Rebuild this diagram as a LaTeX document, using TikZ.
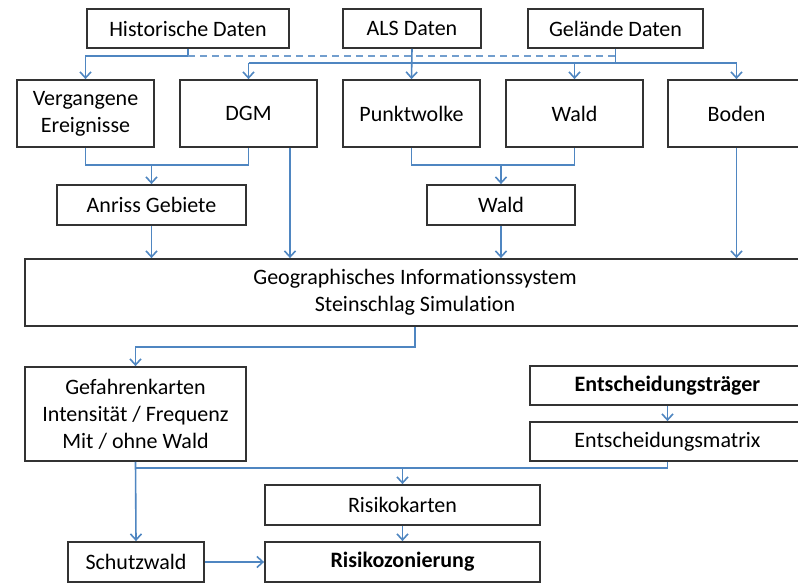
\documentclass[tikz,border=0pt]{standalone}
\usepackage{fontspec}
\setmainfont[Ligatures=NoCommon]{Carlito}
\usepackage{tikz}
\usetikzlibrary{
  arrows.meta,
  positioning,
  calc
}
\definecolor{rfFlow}{HTML}{4F86C1}
\definecolor{rfFrame}{HTML}{333333}
\tikzset{
  rfbox/.style={
    draw=rfFrame, line width=1.8pt, fill=white, inner sep=2pt,
    font=\fontsize{22}{27}\selectfont, align=center
  },
  rfflow/.style={-{Straight Barb[length=6pt,width=11pt]}, line width=1.6pt, rfFlow},
  rflink/.style={line width=1.6pt, rfFlow},
  rfdash/.style={line width=1.5pt, rfFlow!80, dashed, dash pattern=on 7pt off 5pt}
}

\begin{document}
\begin{tikzpicture}[x=1pt, y=-1pt]
  \useasboundingbox[fill=white] (0,0) rectangle (798,584);

  % Datenquellen
  \node[rfbox, minimum width=202pt, minimum height=39pt] (hist) at (188,28.5) {Historische Daten};
  \node[rfbox, minimum width=138pt, minimum height=39pt] (als) at (412,28.5) {ALS Daten};
  \node[rfbox, minimum width=175pt, minimum height=39pt] (gel) at (615.5,28.5) {Gelände Daten};

  % Grundlagen
  \node[rfbox, minimum width=137pt, minimum height=67pt] (verg) at (85.5,113.5) {Vergangene\\Ereignisse};
  \node[rfbox, minimum width=137pt, minimum height=67pt] (dgm) at (248.5,113.5) {DGM};
  \node[rfbox, minimum width=137pt, minimum height=67pt] (punkt) at (411.5,113.5) {Punktwolke};
  \node[rfbox, minimum width=137pt, minimum height=67pt] (wald) at (574.5,113.5) {Wald};
  \node[rfbox, minimum width=137pt, minimum height=67pt] (boden) at (736.5,113.5) {Boden};

  \node[rfbox, minimum width=189pt, minimum height=40pt] (anriss) at (151.5,205) {Anriss Gebiete};
  \node[rfbox, minimum width=148pt, minimum height=40pt] (waldb) at (501,205) {Wald};

  % Simulation
  \node[rfbox, minimum width=780pt, minimum height=67pt] (gis) at (415,292.5) {Geographisches Informationssystem\\Steinschlag Simulation};

  % Ergebnisse
  \node[rfbox, minimum width=221pt, minimum height=94pt] (gef) at (135.5,414) {Gefahrenkarten\\Intensität / Frequenz\\Mit / ohne Wald};
  \node[rfbox, minimum width=275pt, minimum height=39pt, font=\fontsize{22}{27}\selectfont\bfseries] (etr) at (667.5,385.5) {Entscheidungsträger};
  \node[rfbox, minimum width=275pt, minimum height=39pt] (emat) at (667.5,441.5) {Entscheidungsmatrix};
  \node[rfbox, minimum width=275pt, minimum height=40pt] (rkart) at (402.5,505) {Risikokarten};
  \node[rfbox, minimum width=275pt, minimum height=40pt, font=\fontsize{22}{27}\selectfont\bfseries] (rzon) at (402.5,562) {Risikozonierung};
  \node[rfbox, minimum width=136pt, minimum height=40pt] (schutz) at (136,562) {Schutzwald};

  % Sammelschienen
  \coordinate (busA) at (0,56);
  \coordinate (busB) at (0,63);
  \coordinate (busC) at (0,165);
  \coordinate (busD) at (0,347);
  \coordinate (busE) at (0,468);

  \draw[rfflow] (hist.south) -- (hist.south |- busA) -| (verg.north);
  \draw[rfdash] (hist.south |- busA) -- (gel.south |- busA);
  \draw[rflink] (gel.south) -- (gel.south |- busB);
  \draw[rflink] (dgm.north |- busB) -- (boden.north |- busB);
  \draw[rfflow] (dgm.north |- busB) -- (dgm.north);
  \draw[rfflow] (wald.north |- busB) -- (wald.north);
  \draw[rfflow] (boden.north |- busB) -- (boden.north);
  \draw[rfflow] (als.south) -- (punkt.north);

  \draw[rflink] (verg.south) -- (verg.south |- busC) -| (dgm.south);
  \draw[rfflow] (anriss.north |- busC) -- (anriss.north);
  \draw[rflink] (punkt.south) -- (punkt.south |- busC) -| (wald.south);
  \draw[rfflow] (waldb.north |- busC) -- (waldb.north);

  \draw[rfflow] ([xshift=41.5pt]dgm.south) -- ([xshift=41.5pt]dgm.south |- gis.north);
  \draw[rfflow] (anriss.south) -- (anriss.south |- gis.north);
  \draw[rfflow] (waldb.south) -- (waldb.south |- gis.north);
  \draw[rfflow] (boden.south) -- (boden.south |- gis.north);

  \draw[rfflow] (gis.south) -- (gis.south |- busD) -| (gef.north);

  \draw[rfflow] (etr.south) -- (emat.north);
  \draw[rfflow] (emat.south) -- (emat.south |- busE) -| (rkart.north);
  \draw[rflink] (gef.south |- busE) -- (rkart.north |- busE);
  \draw[rfflow] (gef.south) -- (schutz.north);
  \draw[rfflow] (rkart.south) -- (rzon.north);
  \draw[rfflow] (schutz.east) -- (rzon.west);
\end{tikzpicture}
\end{document}
